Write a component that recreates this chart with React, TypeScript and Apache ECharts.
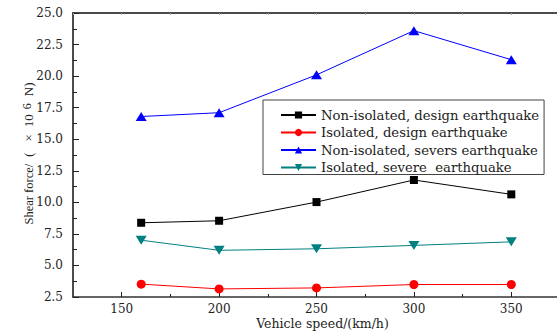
import React, { useEffect, useRef } from "react";
import * as echarts from "echarts";

const speeds = [160, 200, 250, 300, 350];
const nonIsoDesign = [8.38, 8.54, 10.02, 11.77, 10.63];
const isoDesign = [3.52, 3.14, 3.22, 3.49, 3.49];
const nonIsoSevere = [16.8, 17.1, 20.1, 23.6, 21.3];
const isoSevere = [7.0, 6.2, 6.32, 6.59, 6.87];
const seriesNames = [
  "Non-isolated, design earthquake",
  "Isolated, design earthquake",
  "Non-isolated, severs earthquake",
  "Isolated, severe  earthquake",
];
const xTickLabels = [150, 200, 250, 300, 350];
const xMinorTicks = [175, 225, 275, 325];

const FONT = "DejaVu Serif";
const TFONT = "Liberation Serif";
const TXT = "#222";

export default function App() {
  const ref = useRef<HTMLDivElement>(null);
  useEffect(() => {
    if (!ref.current) return;
    const chart = echarts.init(ref.current, null, { renderer: "svg" });
    const pair = (ys: number[]) => speeds.map((x, i) => [x, ys[i]]);
    const mk = (name: string, ys: number[], color: string, symbol: string, size: any, rotate = 0) => ({
      name,
      type: "line",
      data: pair(ys),
      symbol,
      symbolSize: size,
      symbolRotate: rotate,
      showSymbol: true,
      lineStyle: { color, width: 1 },
      itemStyle: { color },
      emphasis: { disabled: true },
    });
    const tok = (extra: any) => ({ fontFamily: TFONT, fontSize: 12.5, color: TXT, lineHeight: 14, verticalAlign: "bottom", ...extra });
    chart.setOption({
      animation: false,
      backgroundColor: "#fff",
      grid: { left: 73, top: 13, bottom: 37, right: -3, outerBoundsMode: "none", containLabel: false },
      legend: {
        orient: "vertical",
        left: 263,
        top: 100,
        padding: [8, 5, 0, 17],
        itemWidth: 35,
        itemHeight: 9,
        itemGap: 3.5,
        backgroundColor: "#fff",
        borderColor: "#444",
        borderWidth: 1,
        borderRadius: 0,
        textStyle: { fontFamily: FONT, fontSize: 13.2, color: TXT, lineHeight: 14 },
        data: seriesNames,
      },
      xAxis: [
        {
          type: "value",
          min: 125,
          max: 375,
          interval: 25,
          position: "bottom",
          name: "Vehicle speed/(km/h)",
          nameLocation: "middle",
          nameGap: 20,
          nameMoveOverlap: false,
          nameTextStyle: { fontFamily: FONT, fontSize: 12.5, lineHeight: 12, color: TXT, padding: [0, 0, 0, 12] },
          axisLine: { show: true, lineStyle: { color: "#333", width: 1.5 } },
          axisTick: { show: true, inside: true, length: 5, customValues: xTickLabels, lineStyle: { color: "#222" } },
          axisLabel: { show: true, margin: 6, fontFamily: FONT, fontSize: 12, lineHeight: 12, color: TXT, customValues: xTickLabels },
          splitLine: { show: false },
        },
        {
          type: "value",
          min: 125,
          max: 375,
          interval: 25,
          position: "bottom",
          axisLine: { show: false },
          axisTick: { show: true, inside: true, length: 3, customValues: xMinorTicks, lineStyle: { color: "#222" } },
          axisLabel: { show: false },
          splitLine: { show: false },
        },
        {
          type: "value",
          min: 125,
          max: 375,
          interval: 25,
          position: "top",
          axisLine: { show: true, lineStyle: { color: "#111", width: 1.5 } },
          axisTick: { show: true, inside: true, length: 2, lineStyle: { color: "#999" } },
          axisLabel: { show: false },
          splitLine: { show: false },
        },
      ],
      yAxis: {
        type: "value",
        min: 2.5,
        max: 25,
        interval: 2.5,
        name: "{a|Shear force/}{p|(}{x|×}{n|10}{s|6}{e|N)}",
        nameLocation: "middle",
        nameRotate: 90,
        nameGap: 38,
        nameMoveOverlap: false,
        nameTextStyle: {
          fontFamily: TFONT,
          fontSize: 12,
          color: TXT,
          padding: [0, 0, 0, 11],
          rich: {
            a: tok({ fontSize: 12.5 }),
            p: tok({ padding: [0, 7, 0, 7] }),
            x: tok({ fontSize: 13, padding: [0, 4, 0, 4] }),
            n: tok({ fontSize: 13, padding: [0, 3, 0, 3] }),
            s: tok({ fontSize: 12, lineHeight: 12, verticalAlign: "top", padding: [0, 3, 7, 2] }),
            e: tok({ fontSize: 13, padding: [0, 8, 0, 4] }),
          },
        },
        axisLine: { show: true, lineStyle: { color: "#111", width: 1.5 } },
        axisTick: { show: true, inside: true, length: 6, lineStyle: { color: "#222" } },
        minorTick: { show: true, splitNumber: 2, length: 4, lineStyle: { color: "#222" } },
        axisLabel: {
          margin: 10,
          fontFamily: FONT,
          fontSize: 12,
          color: TXT,
          formatter: (v: number) => v.toFixed(1),
        },
        splitLine: { show: false },
      },
      series: [
        mk(seriesNames[0], nonIsoDesign, "#000000", "rect", 8),
        mk(seriesNames[1], isoDesign, "#ff0000", "circle", 9),
        mk(seriesNames[2], nonIsoSevere, "#0000ff", "triangle", [11, 9]),
        mk(seriesNames[3], isoSevere, "#008080", "triangle", [11, 9], 180),
      ],
    });
    return () => chart.dispose();
  }, []);
  return <div ref={ref} style={{ width: 557, height: 334, position: "absolute", left: 0, top: 0 }} />;
}
